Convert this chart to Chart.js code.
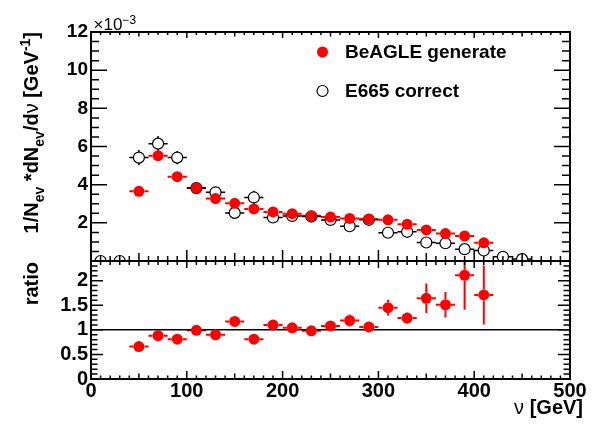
<!DOCTYPE html>
<html>
<head>
<meta charset="utf-8">
<script src="https://cdn.jsdelivr.net/npm/chart.js@4.4.0/dist/chart.umd.min.js"></script>
<style>
    html, body { margin: 0; padding: 0; background: #fff; }
    #wrap { position: relative; width: 596px; height: 433px; }
    #wrap canvas { position: absolute; left: 0; top: 0; }
</style>
</head>
<body>
<div id="wrap">
    <canvas id="top-chart" width="596" height="433"></canvas>
    <canvas id="ratio-chart" width="596" height="433"></canvas>
</div>
<script>
// bin centres in nu [GeV], bins are 20 GeV wide
const beagleNu = [50, 70, 90, 110, 130, 150, 170, 190, 210, 230, 250, 270, 290, 310, 330, 350, 370, 390, 410];
// 1/Nev dNev/dnu in units of 10^-3 GeV^-1
const beagleVal = [3.65, 5.52, 4.42, 3.82, 3.27, 3.02, 2.73, 2.57, 2.48, 2.37, 2.30, 2.23, 2.20, 2.16, 1.92, 1.63, 1.44, 1.31, 0.95];

const e665Nu = [10, 30, 50, 70, 90, 110, 130, 150, 170, 190, 210, 230, 250, 270, 290, 310, 330, 350, 370, 390, 410, 430, 450];
const e665Val = [0, 0, 5.42, 6.15, 5.42, 3.82, 3.60, 2.52, 3.33, 2.28, 2.36, 2.33, 2.15, 1.82, 2.16, 1.48, 1.53, 0.97, 0.93, 0.62, 0.55, 0.22, 0.10];
const e665Err = [0, 0, 0.40, 0.40, 0.35, 0.20, 0.20, 0.20, 0.35, 0.15, 0.15, 0.15, 0.15, 0.15, 0.15, 0.15, 0.15, 0.15, 0.15, 0.15, 0.15, 0.20, 0.20];

// BeAGLE / E665
const ratioVal = [0.66, 0.88, 0.81, 0.99, 0.90, 1.17, 0.81, 1.10, 1.04, 0.98, 1.08, 1.19, 1.06, 1.45, 1.24, 1.64, 1.51, 2.11, 1.71];
const ratioErr = [0.03, 0.03, 0.03, 0.04, 0.04, 0.06, 0.05, 0.06, 0.05, 0.05, 0.07, 0.12, 0.06, 0.16, 0.12, 0.30, 0.26, 0.70, 0.60];

const binHalf = 10;
const xTicks = [0, 100, 200, 300, 400, 500];
const topTicks = [2, 4, 6, 8, 10, 12];
const ratioTicks = [0, 0.5, 1, 1.5, 2];
const ratioRef = 1;

const FONT = "'Liberation Sans', Arial, Helvetica, sans-serif";

const points = (xs, ys) => xs.map((x, i) => ({ x: x, y: ys[i] }));

// x and y error bars, with a gap where the marker sits (ROOT style)
const errorBars = {
    id: 'errorBars',
    beforeDatasetsDraw(chart) {
        const { ctx, chartArea: a, scales: { x, y } } = chart;
        ctx.save();
        ctx.beginPath();
        ctx.rect(a.left, a.top, a.right - a.left, a.bottom - a.top);
        ctx.clip();
        chart.data.datasets.forEach(ds => {
            if (!ds.errWidth) return;
            ctx.strokeStyle = ds.errColor;
            ctx.lineWidth = ds.errWidth;
            const gap = ds.pointRadius;
            ds.data.forEach((p, i) => {
                const px = x.getPixelForValue(p.x);
                const py = y.getPixelForValue(p.y);
                ctx.beginPath();
                ctx.moveTo(x.getPixelForValue(p.x - binHalf), py);
                ctx.lineTo(px - gap, py);
                ctx.moveTo(px + gap, py);
                ctx.lineTo(x.getPixelForValue(p.x + binHalf), py);
                const e = ds.yErr ? ds.yErr[i] : 0;
                const up = y.getPixelForValue(p.y + e);
                const dn = y.getPixelForValue(p.y - e);
                if (py - up > gap) {
                    ctx.moveTo(px, py - gap);
                    ctx.lineTo(px, up);
                    ctx.moveTo(px, py + gap);
                    ctx.lineTo(px, dn);
                }
                ctx.stroke();
            });
        });
        ctx.restore();
    }
};

// frame with inward ticks on all four sides
const frameTicks = {
    id: 'frameTicks',
    afterDatasetsDraw(chart, args, o) {
        const { ctx, chartArea: a, scales: { x, y } } = chart;
        ctx.save();
        ctx.strokeStyle = '#000';
        ctx.lineWidth = 1.5;
        ctx.beginPath();
        let n = Math.round((y.max - y.min) / o.yMinor);
        for (let i = 0; i <= n; i++) {
            const v = y.min + i * o.yMinor;
            const r = v / o.yMajor;
            const len = Math.abs(r - Math.round(r)) < 1e-6 ? o.yLen[1] : o.yLen[0];
            const py = y.getPixelForValue(v);
            ctx.moveTo(a.left, py);
            ctx.lineTo(a.left + len, py);
            ctx.moveTo(a.right, py);
            ctx.lineTo(a.right - len, py);
        }
        n = Math.round((x.max - x.min) / 10);
        for (let i = 0; i <= n; i++) {
            const v = x.min + i * 10;
            const k = v % 100 === 0 ? 2 : (v % 50 === 0 ? 1 : 0);
            const px = x.getPixelForValue(v);
            ctx.moveTo(px, a.bottom);
            ctx.lineTo(px, a.bottom - o.xBot[k]);
            ctx.moveTo(px, a.top);
            ctx.lineTo(px, a.top + o.xTop[k]);
        }
        ctx.stroke();
        ctx.lineWidth = 2;
        ctx.strokeRect(a.left, a.top, a.right - a.left, a.bottom - a.top);
        ctx.restore();
    }
};

// text with sub/superscripts, right end at the origin; parts = [[text, kind]]
const drawRich = (ctx, parts, size, weight) => {
    const fontFor = (k) => {
        const s = (k === 'sub' || k === 'sup') ? size * 0.7 : size;
        const w = k === 'sym' ? 'normal' : weight;
        return `${w} ${s}px ${FONT}`;
    };
    let total = 0;
    parts.forEach(([t, k]) => {
        ctx.font = fontFor(k);
        total += ctx.measureText(t).width;
    });
    let cx = -total;
    parts.forEach(([t, k]) => {
        ctx.font = fontFor(k);
        const dy = k === 'sub' ? size * 0.32 : (k === 'sup' ? -size * 0.38 : 0);
        ctx.fillText(t, cx, dy);
        cx += ctx.measureText(t).width;
    });
};

const panelText = {
    id: 'panelText',
    afterDraw(chart, args, o) {
        const ctx = chart.ctx;
        ctx.save();
        ctx.fillStyle = '#000';
        ctx.textAlign = 'left';
        ctx.textBaseline = 'alphabetic';
        (o.items || []).forEach(it => {
            ctx.save();
            ctx.translate(it.x, it.y);
            if (it.rotate) ctx.rotate(-Math.PI / 2);
            drawRich(ctx, it.parts, it.size, it.weight);
            ctx.restore();
        });
        ctx.restore();
    }
};

const legendBox = {
    id: 'legendBox',
    afterDraw(chart) {
        const ctx = chart.ctx;
        const rows = [52, 91];
        ctx.save();
        chart.data.datasets.forEach((ds, i) => {
            ctx.beginPath();
            ctx.arc(322.5, rows[i], 5.5, 0, Math.PI * 2);
            if (ds.pointBorderWidth) {
                ctx.lineWidth = ds.pointBorderWidth;
                ctx.strokeStyle = ds.pointBorderColor;
                ctx.stroke();
            } else {
                ctx.fillStyle = ds.pointBackgroundColor;
                ctx.fill();
            }
            ctx.fillStyle = '#000';
            ctx.font = `bold 19px ${FONT}`;
            ctx.textBaseline = 'middle';
            ctx.fillText(ds.label, 345, rows[i] + 1);
        });
        ctx.restore();
    }
};

const tickFont = (size) => ({ family: FONT, size: size, weight: 'bold' });

const drawTopChart = () => {
    return new Chart(document.getElementById('top-chart'), {
        type: 'scatter',
        data: {
            datasets: [{
                label: 'BeAGLE generate',
                data: points(beagleNu, beagleVal),
                pointRadius: 5.5,
                pointBackgroundColor: '#ff0000',
                pointBorderColor: '#ff0000',
                pointBorderWidth: 0,
                errColor: '#ff0000',
                errWidth: 2
            }, {
                label: 'E665 correct',
                data: points(e665Nu, e665Val),
                yErr: e665Err,
                pointRadius: 5.5,
                pointBackgroundColor: 'rgba(0,0,0,0)',
                pointBorderColor: '#000',
                pointBorderWidth: 1.2,
                errColor: '#000',
                errWidth: 1.5
            }]
        },
        options: {
            responsive: false,
            animation: false,
            devicePixelRatio: 1,
            layout: { padding: { top: 32, bottom: 172, left: 0, right: 26 } },
            plugins: {
                legend: { display: false },
                tooltip: { enabled: false },
                frameTicks: { yMinor: 0.5, yMajor: 2, yLen: [8, 16], xBot: [5, 8, 11], xTop: [3, 4.5, 6] },
                panelText: {
                    items: [{
                        x: 37.5, y: 32, rotate: true, size: 20, weight: 'bold',
                        parts: [['1/N', ''], ['ev', 'sub'], [' *dN', ''], ['ev', 'sub'], ['/d', ''], ['ν', 'sym'], [' [GeV', ''], ['-1', 'sup'], [']', '']]
                    }, {
                        x: 136, y: 30, size: 17, weight: 'normal',
                        parts: [['×10', ''], ['−3', 'sup']]
                    }]
                }
            },
            scales: {
                x: { type: 'linear', min: 0, max: 500, display: false },
                y: {
                    min: 0, max: 12,
                    grid: { display: false, drawTicks: false },
                    border: { display: false },
                    afterFit: (s) => { s.width = 91; },
                    afterBuildTicks: (s) => { s.ticks = topTicks.map(v => ({ value: v })); },
                    ticks: { padding: 3, color: '#000', font: tickFont(19) }
                }
            }
        },
        plugins: [errorBars, frameTicks, panelText, legendBox]
    });
};

const drawRatioChart = () => {
    return new Chart(document.getElementById('ratio-chart'), {
        type: 'scatter',
        data: {
            datasets: [{
                label: 'ratio',
                data: points(beagleNu, ratioVal),
                yErr: ratioErr,
                pointRadius: 5.5,
                pointBackgroundColor: '#ff0000',
                pointBorderColor: '#ff0000',
                pointBorderWidth: 0,
                errColor: '#ff0000',
                errWidth: 2
            }, {
                label: 'one',
                data: [{ x: xTicks[0], y: ratioRef }, { x: xTicks[xTicks.length - 1], y: ratioRef }],
                showLine: true,
                pointRadius: 0,
                borderColor: '#000',
                borderWidth: 1.5
            }]
        },
        options: {
            responsive: false,
            animation: false,
            devicePixelRatio: 1,
            layout: { padding: { top: 261, bottom: 0, left: 0, right: 26 } },
            plugins: {
                legend: { display: false },
                tooltip: { enabled: false },
                frameTicks: { yMinor: 0.1, yMajor: 0.5, yLen: [6.5, 12], xBot: [3.5, 5.5, 8], xTop: [4, 5, 7] },
                panelText: {
                    items: [{
                        x: 37.5, y: 262, rotate: true, size: 20, weight: 'bold',
                        parts: [['ratio', '']]
                    }, {
                        x: 583, y: 414, size: 20, weight: 'bold',
                        parts: [['ν', 'sym'], [' [GeV]', '']]
                    }]
                }
            },
            scales: {
                x: {
                    type: 'linear', min: 0, max: 500,
                    grid: { display: false, drawTicks: false },
                    border: { display: false },
                    afterFit: (s) => { s.height = 54; },
                    afterBuildTicks: (s) => { s.ticks = xTicks.map(v => ({ value: v })); },
                    ticks: { padding: 0, color: '#000', maxRotation: 0, autoSkip: false, font: tickFont(20) }
                },
                y: {
                    min: 0, max: 2.4,
                    grid: { display: false, drawTicks: false },
                    border: { display: false },
                    afterFit: (s) => { s.width = 91; },
                    afterBuildTicks: (s) => { s.ticks = ratioTicks.map(v => ({ value: v })); },
                    ticks: { padding: 3, color: '#000', font: tickFont(20), callback: (v) => String(v) }
                }
            }
        },
        plugins: [errorBars, frameTicks, panelText]
    });
};

let topChart = drawTopChart();
let ratioChart = drawRatioChart();
</script>
</body>
</html>
